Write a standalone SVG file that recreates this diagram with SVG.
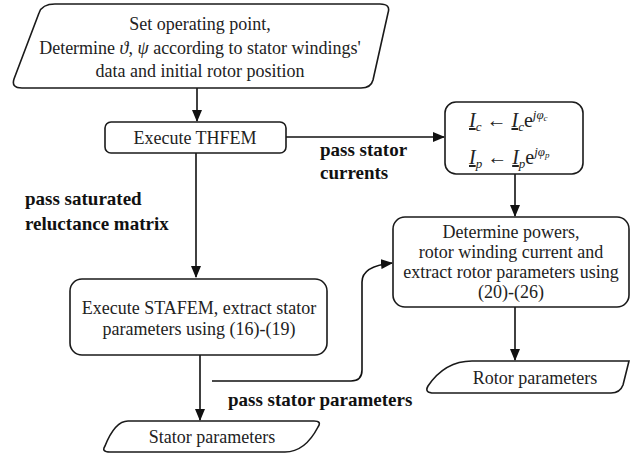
<svg xmlns="http://www.w3.org/2000/svg" width="631" height="455" viewBox="0 0 631 455">
<style>
.box{fill:#fff;stroke:#1a1a1a;stroke-width:1.6}
.t{font-family:"Liberation Serif","Times New Roman",serif;font-size:18px;fill:#222;text-anchor:middle}
.lb{font-family:"Liberation Serif","Times New Roman",serif;font-size:19px;font-weight:bold;fill:#111}
.m{font-family:"Liberation Serif","Times New Roman",serif;font-size:20px;fill:#222}
.c{fill:none;stroke:#111;stroke-width:1.6}
</style>
<defs>
<marker id="ah" markerWidth="12" markerHeight="10" refX="11" refY="5" orient="auto" markerUnits="userSpaceOnUse">
<path d="M0,0 L12,5 L0,10 Z" fill="#111"/>
</marker>
</defs>
<rect width="631" height="455" fill="#fff"/>
<g id="connectors">
<path class="c" d="M197,88 V121" marker-end="url(#ah)"/>
<path class="c" d="M286,137 H444" marker-end="url(#ah)"/>
<path class="c" d="M196,153 V277" marker-end="url(#ah)"/>
<path class="c" d="M515,174 V216" marker-end="url(#ah)"/>
<path class="c" d="M515,307 V360" marker-end="url(#ah)"/>
<path class="c" d="M200,355 V420" marker-end="url(#ah)"/>
<path class="c" d="M212,381 H351 Q362,381 362,370 V282 Q362,266 392,263" marker-end="url(#ah)"/>
</g>
<g id="start">
<path class="box" d="M55,4 H380 Q391,4 388,13 L373,80 Q371,88 361,88 H22 Q11,88 14,79 L39,13 Q42,4 55,4 Z"/>
<text class="t" x="200" y="30">Set operating point,</text>
<text class="t" x="200" y="54">Determine <tspan font-style="italic">ϑ</tspan>, <tspan font-style="italic">ψ</tspan> according to stator windings'</text>
<text class="t" x="200" y="77">data and initial rotor position</text>
</g>
<g id="thfem">
<rect class="box" x="105" y="122" width="181" height="31" rx="6"/>
<text class="t" x="195" y="144">Execute THFEM</text>
</g>
<g id="rotate">
<rect class="box" x="445" y="102" width="138" height="72" rx="11"/>
<text class="m" x="469" y="127"><tspan font-style="italic" text-decoration="underline">I</tspan><tspan font-style="italic" font-size="13" dy="4">c</tspan><tspan dy="-4"> ← </tspan><tspan font-style="italic" text-decoration="underline">I</tspan><tspan font-style="italic" font-size="13" dy="4">c</tspan><tspan dy="-4">e</tspan><tspan font-style="italic" font-size="13" dy="-8">jφ</tspan><tspan font-style="italic" font-size="9" dy="2">c</tspan></text>
<text class="m" x="469" y="164"><tspan font-style="italic" text-decoration="underline">I</tspan><tspan font-style="italic" font-size="13" dy="4">p</tspan><tspan dy="-4"> ← </tspan><tspan font-style="italic" text-decoration="underline">I</tspan><tspan font-style="italic" font-size="13" dy="4">p</tspan><tspan dy="-4">e</tspan><tspan font-style="italic" font-size="13" dy="-8">jφ</tspan><tspan font-style="italic" font-size="9" dy="2">p</tspan></text>
</g>
<g id="stafem">
<rect class="box" x="70" y="279" width="257" height="76" rx="12"/>
<text class="t" x="199" y="314">Execute STAFEM, extract stator</text>
<text class="t" x="199" y="335">parameters using (16)-(19)</text>
</g>
<g id="rotorcalc">
<rect class="box" x="393" y="217" width="236" height="90" rx="12"/>
<text class="t" x="511" y="238">Determine powers,</text>
<text class="t" x="511" y="258">rotor winding current and</text>
<text class="t" x="511" y="278">extract rotor parameters using</text>
<text class="t" x="511" y="298">(20)-(26)</text>
</g>
<g id="rotorparams">
<path class="box" d="M472,361 H629 L623,385 Q620,393 611,393 H434 Q424,393 428,386 Q445,361 472,361 Z"/>
<text class="t" x="535" y="384">Rotor parameters</text>
</g>
<g id="statorparams">
<path class="box" d="M128,421 H314 Q322,421 318,427 Q305,452 285,452 H110 Q101,452 105,446 Q115,421 128,421 Z"/>
<text class="t" x="212" y="443">Stator parameters</text>
</g>
<g id="labels">
<text class="lb" x="320" y="156">pass stator</text>
<text class="lb" x="320" y="179">currents</text>
<text class="lb" x="25" y="205">pass saturated</text>
<text class="lb" x="25" y="230">reluctance matrix</text>
<text class="lb" x="228" y="406">pass stator parameters</text>
</g>
</svg>
